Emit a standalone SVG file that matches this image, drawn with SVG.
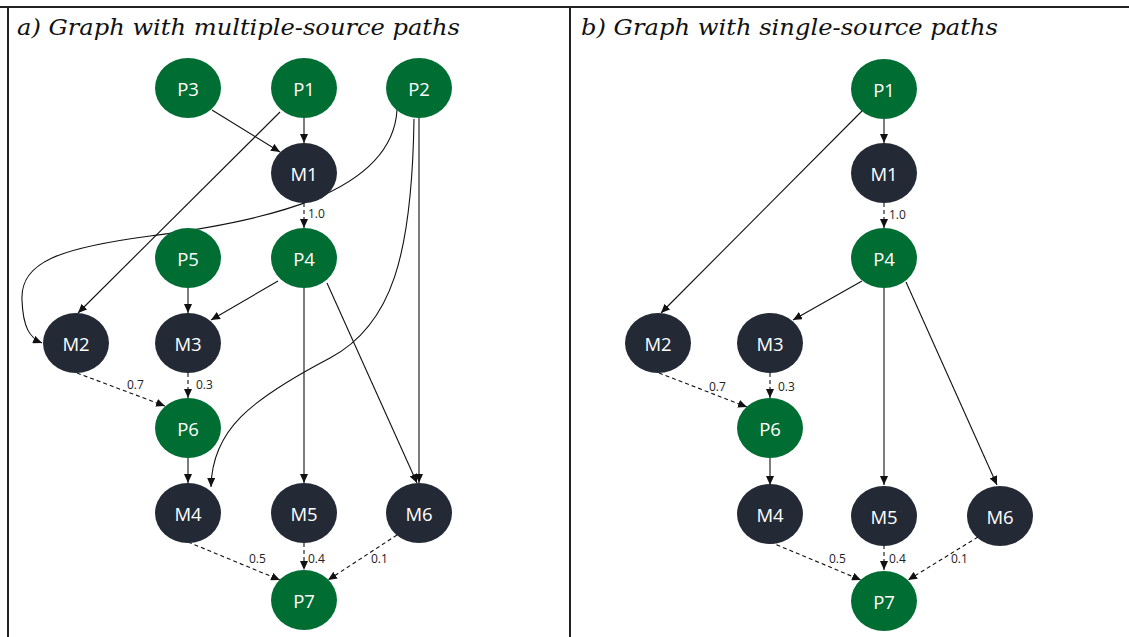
<svg xmlns="http://www.w3.org/2000/svg" width="1129" height="637" viewBox="0 0 1129 637">
  <defs>
    <marker id="arrow" markerWidth="9" markerHeight="8" refX="9" refY="4" orient="auto" markerUnits="userSpaceOnUse">
      <path d="M0,0 L9,4 L0,8 Z" fill="#111"/>
    </marker>
  </defs>
  <style>
    .frame { stroke: #222; stroke-width: 2; fill: none; }
    .title { font-family: "DejaVu Serif", "Liberation Serif", serif; font-style: italic; font-size: 23px; fill: #111; }
    .p { fill: #006E33; }
    .m { fill: #232A36; }
    .lbl { font-family: "Open Sans", "Noto Sans", sans-serif; font-size: 18.5px; fill: #fff; text-anchor: middle; dominant-baseline: central; }
    .e { stroke: #111; stroke-width: 1.1; fill: none; marker-end: url(#arrow); }
    .d { stroke-dasharray: 4 3; }
    .w { font-family: "Open Sans", "Noto Sans", sans-serif; font-size: 12px; fill: #222; }
  </style>

  <!-- table frame -->
  <g id="frame">
    <line class="frame" x1="0" y1="7" x2="1129" y2="7"/>
    <line class="frame" x1="8" y1="7" x2="8" y2="637"/>
    <line class="frame" x1="570" y1="7" x2="570" y2="637" stroke-width="1.3"/>
    <text class="title" x="17" y="35" textLength="443" lengthAdjust="spacingAndGlyphs">a) Graph with multiple-source paths</text>
    <text class="title" x="581" y="35" textLength="417" lengthAdjust="spacingAndGlyphs">b) Graph with single-source paths</text>
  </g>

  <!-- connectors -->
  <g id="connectors">
    <!-- panel a -->
    <line class="e" x1="212" y1="110" x2="280" y2="152"/>
    <line class="e" x1="304" y1="118" x2="304" y2="143"/>
    <line class="e" x1="280" y1="112" x2="78" y2="313"/>
    <path class="e" d="M397,110 C392,195 260,222 150,236 C60,248 20,262 22,300 C23,328 30,338 42,343"/>
    <path class="e" d="M414,119 C412,255 392,325 330,358 C250,400 212,430 211,487"/>
    <line class="e" x1="419" y1="118" x2="419" y2="483"/>
    <line class="e d" x1="304" y1="203" x2="304" y2="228"/>
    <line class="e" x1="188" y1="288" x2="188" y2="313"/>
    <line class="e" x1="278" y1="281" x2="211" y2="320"/>
    <line class="e" x1="304" y1="288" x2="304" y2="483"/>
    <line class="e" x1="327" y1="283" x2="417" y2="483"/>
    <line class="e d" x1="77" y1="373" x2="165" y2="406"/>
    <line class="e d" x1="188" y1="373" x2="188" y2="398"/>
    <line class="e" x1="188" y1="458" x2="188" y2="483"/>
    <line class="e d" x1="188" y1="542" x2="280" y2="580"/>
    <line class="e d" x1="304" y1="543" x2="304" y2="570"/>
    <line class="e d" x1="397" y1="535" x2="328" y2="580"/>
    <text class="w" x="308" y="218">1.0</text>
    <text class="w" x="127" y="389">0.7</text>
    <text class="w" x="196" y="389">0.3</text>
    <text class="w" x="249" y="563">0.5</text>
    <text class="w" x="308" y="563">0.4</text>
    <text class="w" x="371" y="563">0.1</text>

    <!-- panel b -->
    <line class="e" x1="884" y1="119" x2="884" y2="143"/>
    <line class="e" x1="862" y1="111" x2="661" y2="313"/>
    <line class="e d" x1="884" y1="203" x2="884" y2="228"/>
    <line class="e" x1="862" y1="281" x2="793" y2="320"/>
    <line class="e" x1="884" y1="288" x2="884" y2="485"/>
    <line class="e" x1="906" y1="282" x2="997" y2="485"/>
    <line class="e d" x1="659" y1="373" x2="747" y2="407"/>
    <line class="e d" x1="770" y1="373" x2="770" y2="398"/>
    <line class="e" x1="770" y1="458" x2="770" y2="485"/>
    <line class="e d" x1="770" y1="542" x2="861" y2="580"/>
    <line class="e d" x1="884" y1="545" x2="884" y2="570"/>
    <line class="e d" x1="978" y1="537" x2="908" y2="580"/>
    <text class="w" x="889" y="219">1.0</text>
    <text class="w" x="709" y="391">0.7</text>
    <text class="w" x="778" y="391">0.3</text>
    <text class="w" x="829" y="563">0.5</text>
    <text class="w" x="889" y="563">0.4</text>
    <text class="w" x="951" y="563">0.1</text>
  </g>

  <!-- panel a nodes -->
  <g id="a-P3"><ellipse class="p" cx="188" cy="88" rx="33" ry="30"/><text class="lbl" x="188" y="88">P3</text></g>
  <g id="a-P1"><ellipse class="p" cx="304" cy="88" rx="33" ry="30"/><text class="lbl" x="304" y="88">P1</text></g>
  <g id="a-P2"><ellipse class="p" cx="419" cy="88" rx="33" ry="30"/><text class="lbl" x="419" y="88">P2</text></g>
  <g id="a-M1"><ellipse class="m" cx="304" cy="173" rx="33" ry="30"/><text class="lbl" x="304" y="173">M1</text></g>
  <g id="a-P5"><ellipse class="p" cx="188" cy="258" rx="33" ry="30"/><text class="lbl" x="188" y="258">P5</text></g>
  <g id="a-P4"><ellipse class="p" cx="304" cy="258" rx="33" ry="30"/><text class="lbl" x="304" y="258">P4</text></g>
  <g id="a-M2"><ellipse class="m" cx="76" cy="343" rx="33" ry="30"/><text class="lbl" x="76" y="343">M2</text></g>
  <g id="a-M3"><ellipse class="m" cx="188" cy="343" rx="33" ry="30"/><text class="lbl" x="188" y="343">M3</text></g>
  <g id="a-P6"><ellipse class="p" cx="188" cy="428" rx="33" ry="30"/><text class="lbl" x="188" y="428">P6</text></g>
  <g id="a-M4"><ellipse class="m" cx="188" cy="513" rx="33" ry="30"/><text class="lbl" x="188" y="513">M4</text></g>
  <g id="a-M5"><ellipse class="m" cx="304" cy="513" rx="33" ry="30"/><text class="lbl" x="304" y="513">M5</text></g>
  <g id="a-M6"><ellipse class="m" cx="419" cy="513" rx="33" ry="30"/><text class="lbl" x="419" y="513">M6</text></g>
  <g id="a-P7"><ellipse class="p" cx="304" cy="600" rx="33" ry="30"/><text class="lbl" x="304" y="600">P7</text></g>

  <!-- panel b nodes -->
  <g id="b-P1"><ellipse class="p" cx="884" cy="89" rx="33" ry="30"/><text class="lbl" x="884" y="89">P1</text></g>
  <g id="b-M1"><ellipse class="m" cx="884" cy="173" rx="33" ry="30"/><text class="lbl" x="884" y="173">M1</text></g>
  <g id="b-P4"><ellipse class="p" cx="884" cy="258" rx="33" ry="30"/><text class="lbl" x="884" y="258">P4</text></g>
  <g id="b-M2"><ellipse class="m" cx="658" cy="343" rx="33" ry="30"/><text class="lbl" x="658" y="343">M2</text></g>
  <g id="b-M3"><ellipse class="m" cx="770" cy="343" rx="33" ry="30"/><text class="lbl" x="770" y="343">M3</text></g>
  <g id="b-P6"><ellipse class="p" cx="770" cy="428" rx="33" ry="30"/><text class="lbl" x="770" y="428">P6</text></g>
  <g id="b-M4"><ellipse class="m" cx="770" cy="514" rx="33" ry="30"/><text class="lbl" x="770" y="514">M4</text></g>
  <g id="b-M5"><ellipse class="m" cx="884" cy="516" rx="33" ry="30"/><text class="lbl" x="884" y="516">M5</text></g>
  <g id="b-M6"><ellipse class="m" cx="1000" cy="516" rx="33" ry="30"/><text class="lbl" x="1000" y="516">M6</text></g>
  <g id="b-P7"><ellipse class="p" cx="884" cy="601" rx="33" ry="30"/><text class="lbl" x="884" y="601">P7</text></g>
</svg>
